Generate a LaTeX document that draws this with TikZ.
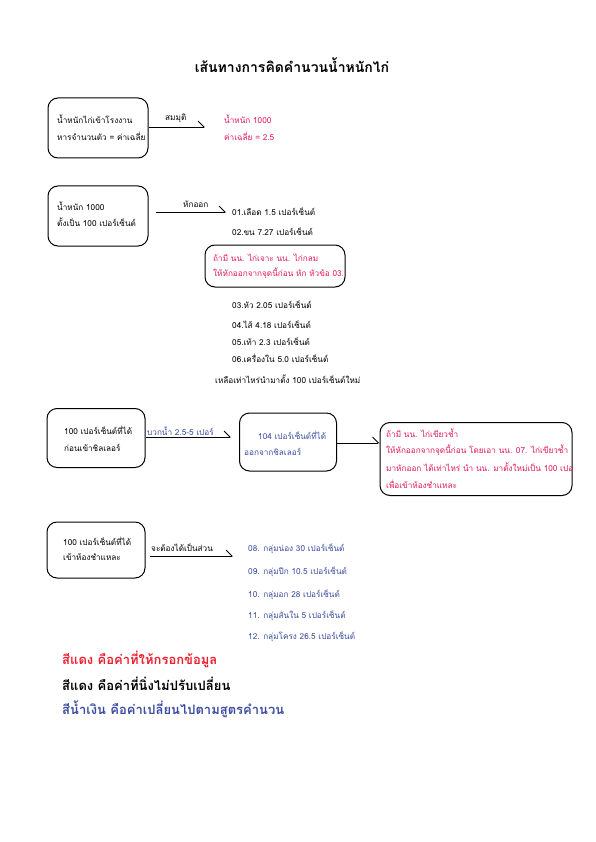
\documentclass[tikz,border=0pt]{standalone}
\usepackage{fontspec}
\setmainfont{Loma}[Script=Thai]
\usetikzlibrary{arrows.meta}
\definecolor{tred}{HTML}{E2185B}
\definecolor{lred}{HTML}{EE2030}
\definecolor{tblue}{HTML}{3B4DA0}
\begin{document}
\begin{tikzpicture}[x=1pt,y=-1pt,
  box/.style={draw, line width=1pt, rounded corners=10pt, inner sep=0pt},
  txt/.style={anchor=west, inner sep=0pt, font=\fontsize{8.2}{10}\selectfont},
  arr/.style={line width=0.8pt, -{Straight Barb[left,length=6pt,width=12pt]}},
  leg/.style={anchor=west, inner sep=0pt, font=\bfseries\fontsize{13}{15}\selectfont}]
\fill[white] (0,0) rectangle (595,842);
\useasboundingbox (0,0) rectangle (595,842);
\node[inner sep=0pt, font=\bfseries\fontsize{14}{16}\selectfont] (title) at (292,65) {เส้นทางการคิดคำนวนน้ำหนักไก่};

% row 1
\node[box, minimum width=100pt, minimum height=60pt] (b1) at (98,128) {};
\node[txt] (b1a) at (57,119) {น้ำหนักไก่เข้าโรงงาน};
\node[txt] (b1b) at (57,136) {หารจำนวนตัว = ค่าเฉลี่ย};
\coordinate (e1) at (205,127);
\draw[arr] (b1.east |- e1) -- (e1);
\node[txt] (l1) at (165,118) {สมมุติ};
\node[txt, text=tred] (r1a) at (224,119) {น้ำหนัก 1000};
\node[txt, text=tred] (r1b) at (224,136) {ค่าเฉลี่ย = 2.5};

% row 2
\node[box, minimum width=100pt, minimum height=60pt] (b2) at (98,216) {};
\node[txt] (b2a) at (57,206) {น้ำหนัก 1000};
\node[txt] (b2b) at (57,222) {ตั้งเป็น 100 เปอร์เซ็นต์};
\coordinate (e2) at (226,212);
\draw[arr] ([xshift=7pt]b2.east |- e2) -- (e2);
\node[txt] (l2) at (183,204) {หักออก};
\node[txt] (p01) at (232,212) {01.เลือด 1.5 เปอร์เซ็นต์};
\node[txt] (p02) at (232,232) {02.ขน 7.27 เปอร์เซ็นต์};
\node[box, minimum width=140pt, minimum height=42pt] (nb) at (275,266) {};
\node[txt, text=tred] (nba) at (213,258) {ถ้ามี นน. ไก่เจาะ นน. ไก่กลม};
\node[txt, text=tred] (nbb) at (213,273) {ให้หักออกจากจุดนี้ก่อน หัก หัวข้อ 03.};
\node[txt] (p03) at (232,305) {03.หัว 2.05 เปอร์เซ็นต์};
\node[txt] (p04) at (232,325) {04.ไส้ 4.18 เปอร์เซ็นต์};
\node[txt] (p05) at (232,342) {05.เท้า 2.3 เปอร์เซ็นต์};
\node[txt] (p06) at (232,358) {06.เครื่องใน 5.0 เปอร์เซ็นต์};
\node[txt] (rem) at (215,379) {เหลือเท่าไหร่นำมาตั้ง 100 เปอร์เซ็นต์ใหม่};

% row 3
\node[box, minimum width=98pt, minimum height=59pt] (b3) at (96,438) {};
\node[txt] (b3a) at (64,430) {100 เปอร์เซ็นต์ที่ได้};
\node[txt] (b3b) at (64,448) {ก่อนเข้าชิลเลอร์};
\node[box, minimum width=97pt, minimum height=58pt] (b4) at (288,442) {};
\draw[arr] (b3.east |- 0,437) -- ([xshift=-8pt]b4.west |- 0,437);
\node[txt, text=tblue] (l3) at (147,431) {บวกน้ำ 2.5-5 เปอร์};
\node[txt, text=tblue] (b4a) at (258,435) {104 เปอร์เซ็นต์ที่ได้};
\node[txt, text=tblue] (b4b) at (244,452) {ออกจากชิลเลอร์};
\node[box, minimum width=192pt, minimum height=73pt] (b5) at (476,459) {};
\draw[arr] (b4.east |- 0,443) -- (b5.west |- 0,443);
\begin{scope}
\clip (b5.north west) rectangle (b5.south east);
\node[txt, text=tred] (b5a) at (386,433) {ถ้ามี นน. ไก่เขียวช้ำ};
\node[txt, text=tred] (b5b) at (386,450) {ให้หักออกจากจุดนี้ก่อน โดยเอา นน. 07. ไก่เขียวช้ำ};
\node[txt, text=tred] (b5c) at (386,467) {มาหักออก ได้เท่าไหร่ นำ นน. มาตั้งใหม่เป็น 100 เปอร์เซ็นต์};
\node[txt, text=tred] (b5d) at (386,484) {เพื่อเข้าห้องชำแหละ};
\end{scope}

% row 4
\node[box, minimum width=98pt, minimum height=56pt] (b6) at (96,550) {};
\node[txt] (b6a) at (63,541) {100 เปอร์เซ็นต์ที่ได้};
\node[txt] (b6b) at (63,557) {เข้าห้องชำแหละ};
\coordinate (e6) at (233,556);
\draw[arr] ([xshift=4pt]b6.east |- e6) -- (e6);
\node[txt] (l6) at (151,548) {จะต้องได้เป็นส่วน};
\node[txt, text=tblue] (p08) at (248,549) {08. กลุ่มน่อง 30 เปอร์เซ็นต์};
\node[txt, text=tblue] (p09) at (248,572) {09. กลุ่มปีก 10.5 เปอร์เซ็นต์};
\node[txt, text=tblue] (p10) at (248,595) {10. กลุ่มอก 28 เปอร์เซ็นต์};
\node[txt, text=tblue] (p11) at (248,616) {11. กลุ่มสันใน 5 เปอร์เซ็นต์};
\node[txt, text=tblue] (p12) at (248,637) {12. กลุ่มโครง 26.5 เปอร์เซ็นต์};

% legend
\node[leg, text=lred] (g1) at (62,659) {สีแดง คือค่าที่ให้กรอกข้อมูล};
\node[leg] (g2) at (62,684) {สีแดง คือค่าที่นิ่งไม่ปรับเปลี่ยน};
\node[leg, text=tblue] (g3) at (62,709) {สีน้ำเงิน คือค่าเปลี่ยนไปตามสูตรคำนวน};
\end{tikzpicture}
\end{document}
